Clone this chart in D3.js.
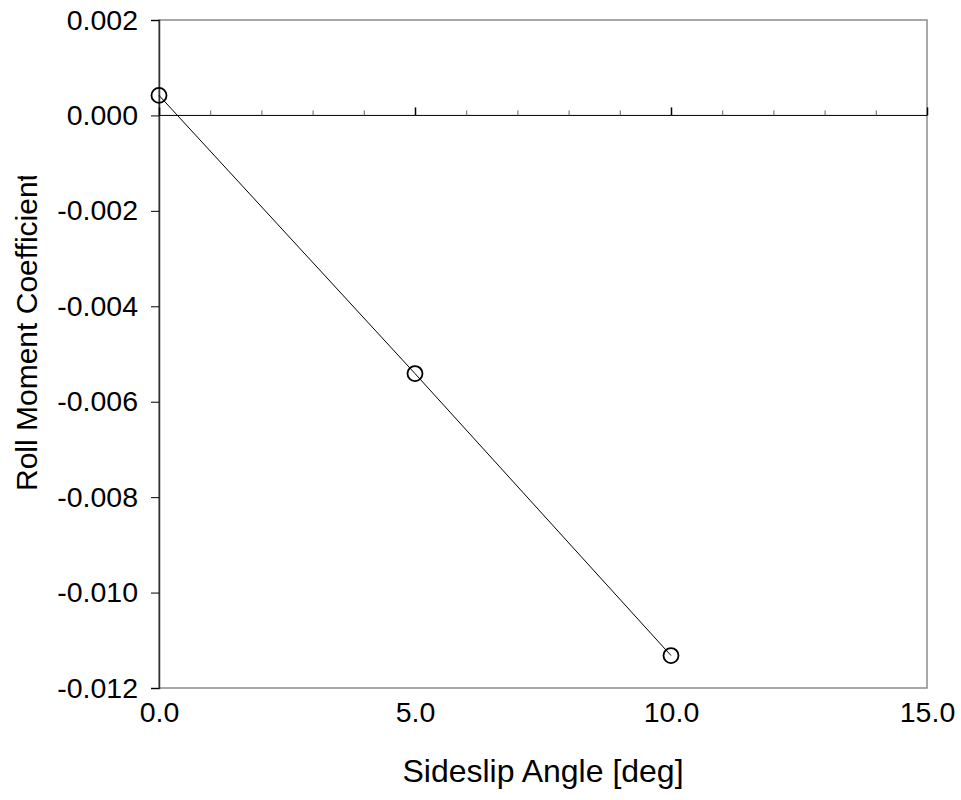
<!DOCTYPE html>
<html>
<head>
<meta charset="utf-8">
<script src="https://cdn.jsdelivr.net/npm/d3@7"></script>
<style>
  body { margin: 0; background: #fff; }
  svg { display: block; font-family: "Liberation Sans", Arial, sans-serif; }
</style>
</head>
<body>
<div id="chart"></div>
<script>
// data
const sideslip = [0, 5, 10];
const rollCoef = [0.00042, -0.00541, -0.01132];
const xTickLabels = [0, 5, 10, 15];
const xMinorTicks = d3.range(0, 16, 1);
const yTickLabels = [0.002, 0.000, -0.002, -0.004, -0.006, -0.008, -0.010, -0.012];

const width = 961, height = 800;
const margin = { top: 20, right: 34, bottom: 112, left: 159 };

const svg = d3.select("#chart")
  .append("svg")
  .attr("width", width)
  .attr("height", height);

const x = d3.scaleLinear().domain([0, 15]).range([margin.left, width - margin.right]);
const y = d3.scaleLinear().domain([-0.012, 0.002]).range([height - margin.bottom, margin.top]);

const fmtY = d => d3.format(".3f")(d).replace("\u2212", "-");

// plot frame (gray)
svg.append("rect")
  .attr("x", x(0))
  .attr("y", y(0.002))
  .attr("width", x(15) - x(0))
  .attr("height", y(-0.012) - y(0.002))
  .attr("fill", "none")
  .attr("stroke", "#8c8c8c")
  .attr("stroke-width", 1.5);

// Y axis
const yAxis = svg.append("g")
  .attr("transform", "translate(" + x(0) + ",0)")
  .call(d3.axisLeft(y).tickValues(yTickLabels).tickSize(8).tickPadding(13).tickFormat(fmtY));
yAxis.select(".domain").attr("stroke", "#333").attr("stroke-width", 1.5);
yAxis.selectAll(".tick line").attr("stroke", "#000");
yAxis.selectAll("text")
  .attr("font-size", 28.5)
  .attr("font-family", "Liberation Sans, Arial, sans-serif")
  .attr("fill", "#000");

// X axis line at zero with ticks pointing up
const zeroAxis = svg.append("g")
  .attr("transform", "translate(0," + y(0) + ")")
  .call(d3.axisTop(x).tickValues(xMinorTicks).tickSize(5).tickFormat(""));
zeroAxis.select(".domain").attr("stroke", "#000").attr("d", "M" + x(0) + ",0H" + x(15));
zeroAxis.selectAll(".tick line").attr("stroke", "#666");

const zeroMajor = svg.append("g")
  .attr("transform", "translate(0," + y(0) + ")")
  .call(d3.axisTop(x).tickValues(xTickLabels).tickSize(8).tickFormat(""));
zeroMajor.select(".domain").remove();
zeroMajor.selectAll(".tick line").attr("stroke", "#000").attr("stroke-width", 1.5);

// X tick labels below the plot
const xLabels = svg.append("g")
  .attr("transform", "translate(0," + y(-0.012) + ")")
  .call(d3.axisBottom(x).tickValues(xTickLabels).tickSize(0).tickPadding(14).tickFormat(d3.format(".1f")));
xLabels.select(".domain").remove();
xLabels.selectAll("text")
  .attr("font-size", 28.5)
  .attr("font-family", "Liberation Sans, Arial, sans-serif")
  .attr("fill", "#000");

// series line
const pts = sideslip.map((d, i) => ({ a: d, c: rollCoef[i] }));
const line = d3.line().x(d => x(d.a)).y(d => y(d.c));

svg.append("path")
  .datum(pts)
  .attr("fill", "none")
  .attr("stroke", "#000")
  .attr("stroke-width", 1)
  .attr("d", line);

svg.selectAll("circle.pt")
  .data(pts)
  .enter()
  .append("circle")
  .attr("class", "pt")
  .attr("cx", d => x(d.a))
  .attr("cy", d => y(d.c))
  .attr("r", 7.5)
  .attr("fill", "none")
  .attr("stroke", "#000")
  .attr("stroke-width", 1.8);

// axis titles
svg.append("text")
  .attr("x", (x(0) + x(15)) / 2)
  .attr("y", 782)
  .attr("text-anchor", "middle")
  .attr("font-size", 32)
  .text("Sideslip Angle [deg]");

// y title is cut off at the top in the original
svg.append("clipPath")
  .attr("id", "ytitle-clip")
  .append("rect")
  .attr("x", 0).attr("y", 176).attr("width", 60).attr("height", 400);

svg.append("g")
  .attr("clip-path", "url(#ytitle-clip)")
  .append("text")
  .attr("transform", "translate(37,491) rotate(-90)")
  .attr("text-anchor", "start")
  .attr("font-size", 30)
  .text("Roll Moment Coefficient");
</script>
</body>
</html>
